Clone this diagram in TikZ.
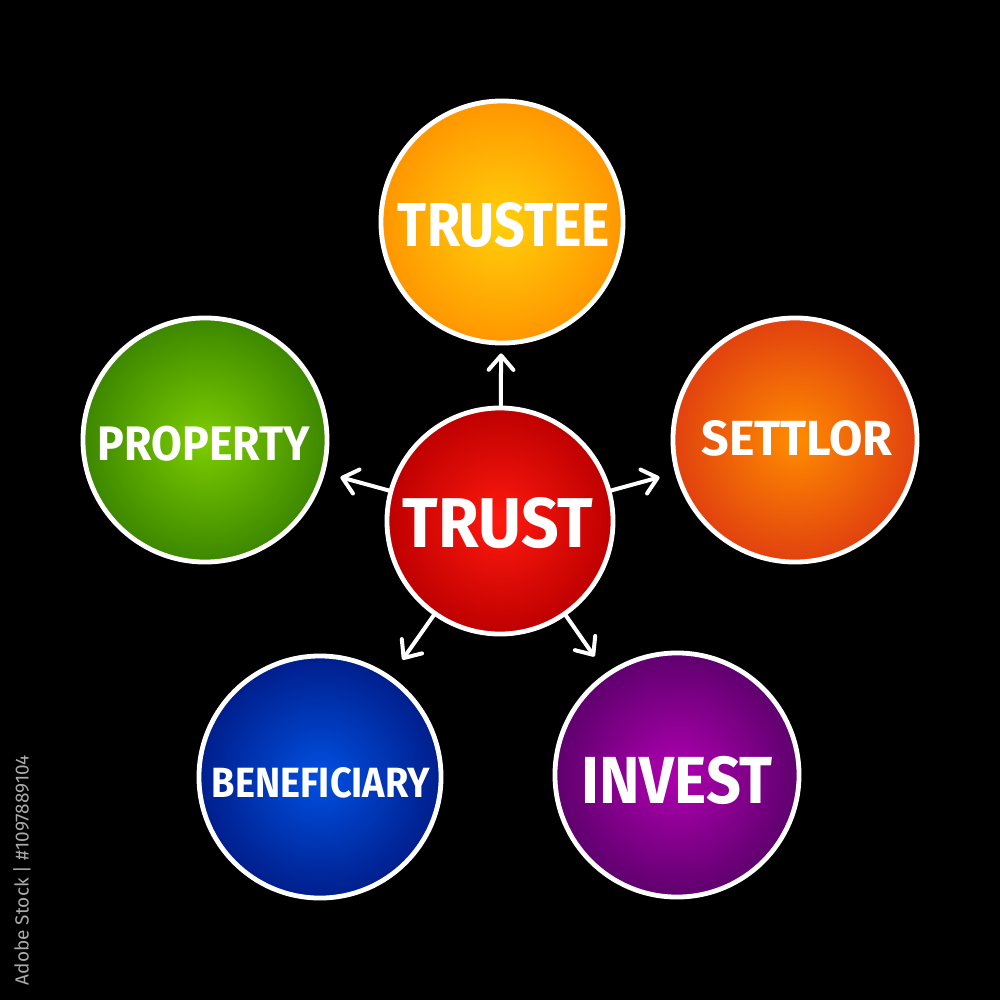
\documentclass[tikz,border=0pt]{standalone}
\usepackage{fontspec}
\setmainfont{Fira Sans}
\usetikzlibrary{arrows.meta}
\newcommand\circtext[3]{\resizebox{#1}{#2}{\bfseries #3}}
\tikzset{
  bubble/.style={circle, draw=white, line width=0.12cm, inner sep=0pt},
  lbl/.style={text=white, inner sep=0pt},
  arr/.style={white, line width=0.1cm, line cap=round,
    -{Straight Barb[length=0.36cm, width=0.62cm, line width=0.1cm, round]}}
}
\begin{document}
\begin{tikzpicture}[x=0.025cm, y=-0.025cm]
\fill[black] (0,0) rectangle (1000,1000);
\useasboundingbox (0,0) rectangle (1000,1000);

\node[bubble, minimum size=6.05cm, inner color={rgb,255:red,255;green,208;blue,10}, outer color={rgb,255:red,255;green,150;blue,0}] (trustee) at (502,222) {};
\node[bubble, minimum size=6.1cm, inner color={rgb,255:red,255;green,140;blue,0}, outer color={rgb,255:red,225;green,65;blue,15}] (settlor) at (795,440) {};
\node[bubble, minimum size=6.1cm, inner color={rgb,255:red,125;green,205;blue,0}, outer color={rgb,255:red,60;green,135;blue,0}] (property) at (205,440) {};
\node[bubble, minimum size=5.65cm, inner color={rgb,255:red,255;green,25;blue,15}, outer color={rgb,255:red,190;green,0;blue,0}] (trust) at (500,521) {};
\node[bubble, minimum size=6.05cm, inner color={rgb,255:red,0;green,80;blue,225}, outer color={rgb,255:red,0;green,30;blue,140}] (beneficiary) at (320,777) {};
\node[bubble, minimum size=6.1cm, inner color={rgb,255:red,175;green,0;blue,175}, outer color={rgb,255:red,95;green,0;blue,110}] (invest) at (677,775) {};

\node[lbl] (ttrustee) at (504,225) {\circtext{5.3cm}{1.1cm}{TRUSTEE}};
\node[lbl] (tsettlor) at (797,438) {\circtext{4.78cm}{0.875cm}{SETTLOR}};
\node[lbl] (tproperty) at (204,444) {\circtext{5.3cm}{0.86cm}{PROPERTY}};
\node[lbl] (ttrust) at (498,523) {\circtext{4.75cm}{1.25cm}{TRUST}};
\node[lbl] (tbeneficiary) at (321,783) {\circtext{5.45cm}{0.75cm}{BENEFICIARY}};
\node[lbl] (tinvest) at (677,780) {\circtext{4.78cm}{1.18cm}{INVEST}};

\draw[arr, shorten >=0.2cm] (trust) -- (trustee);
\draw[arr, shorten >=0.4cm] (trust) -- (settlor);
\draw[arr, shorten >=0.4cm] (trust) -- (property);
\draw[arr, shorten >=0.5cm] (trust) -- (beneficiary);
\draw[arr, shorten >=0.5cm] (trust) -- (invest);

\node[text={rgb,255:red,170;green,170;blue,170}, rotate=90, inner sep=0pt] (stockid) at (22,870) {\resizebox{5.75cm}{!}{Adobe Stock | \#1097889104}};
\end{tikzpicture}
\end{document}
